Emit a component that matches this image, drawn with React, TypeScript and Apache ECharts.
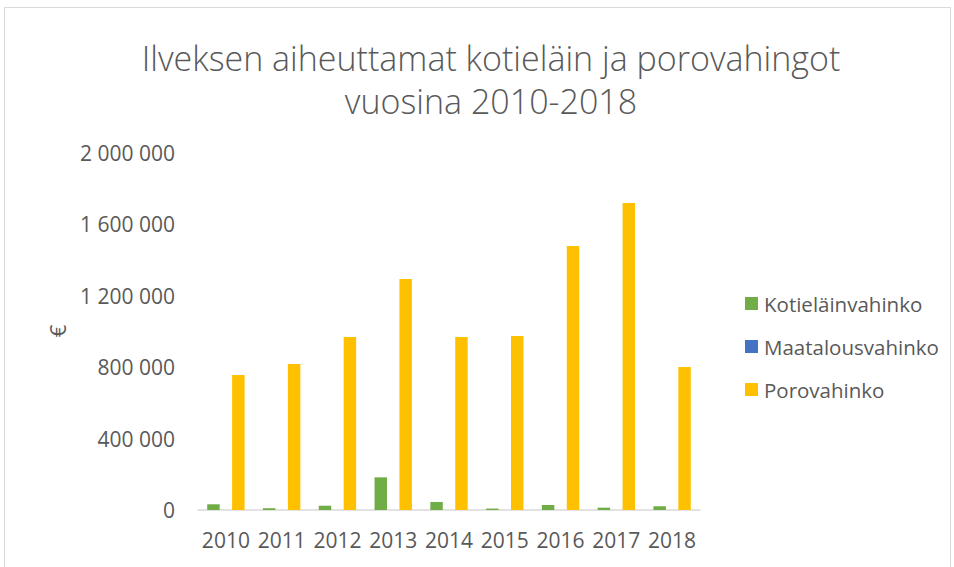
import React, { useEffect, useRef } from "react";
import * as echarts from "echarts";

const years = ["2010", "2011", "2012", "2013", "2014", "2015", "2016", "2017", "2018"];
const kotielain = [32000, 10000, 24000, 183000, 45000, 8000, 28000, 13000, 21000];
const maatalous = [0, 0, 0, 0, 0, 0, 0, 0, 0];
const porovahinko = [756000, 818000, 969000, 1294000, 969000, 975000, 1479000, 1720000, 801000];
const seriesNames = ["Kotieläinvahinko", "Maatalousvahinko", "Porovahinko"];
const colors = ["#70ad47", "#4472c4", "#ffc000"];

const FONT = "'Open Sans', sans-serif";
const TXT = "#595959";

const fmt = (v: number) => String(Math.round(v)).replace(/\B(?=(\d{3})+(?!\d))/g, " ");

export default function App() {
  const ref = useRef<HTMLDivElement>(null);
  useEffect(() => {
    const chart = echarts.init(ref.current!, undefined, { renderer: "svg" });
    const data = [kotielain, maatalous, porovahinko];
    chart.setOption({
      animation: false,
      backgroundColor: "#ffffff",
      color: colors,
      title: {
        text: "Ilveksen aiheuttamat kotieläin ja porovahingot\nvuosina 2010-2018",
        left: 486,
        textAlign: "center",
        top: 31,
        textStyle: {
          fontFamily: FONT,
          fontWeight: 300,
          fontSize: 34,
          color: TXT,
          lineHeight: 43,
        },
      },
      graphic: [
        {
          type: "rect",
          shape: { x: 4.5, y: 7.5, width: 946, height: 580 },
          style: { fill: "none", stroke: "#d9d9d9", lineWidth: 1 },
          silent: true,
        },
        {
          type: "text",
          x: 57,
          y: 331,
          rotation: Math.PI / 2,
          style: {
            text: "€",
            fontFamily: FONT,
            fontSize: 22,
            fill: TXT,
            align: "center",
            verticalAlign: "middle",
          },
        },
      ],
      legend: {
        orient: "vertical",
        left: 740,
        top: 288,
        itemWidth: 13,
        itemHeight: 13,
        itemGap: 22,
        icon: "rect",
        data: seriesNames,
        textStyle: { fontFamily: FONT, fontSize: 20.5, color: TXT, padding: [0, 0, 0, 1] },
      },
      grid: { left: 198, right: 254, top: 153, bottom: 57, containLabel: false },
      xAxis: {
        type: "category",
        data: years,
        axisLine: { lineStyle: { color: "#d9d9d9", width: 1.5 } },
        axisTick: { show: false },
        axisLabel: { fontFamily: FONT, fontSize: 21, color: TXT, margin: 19, interval: 0 },
      },
      yAxis: {
        type: "value",
        min: 0,
        max: 2000000,
        interval: 400000,
        splitLine: { show: false },
        axisLine: { show: false },
        axisTick: { show: false },
        axisLabel: {
          fontFamily: FONT,
          fontSize: 21,
          color: TXT,
          margin: 23,
          formatter: (v: number) => fmt(v),
        },
      },
      series: seriesNames.map((name, i) => ({
        name,
        type: "bar",
        data: data[i],
        barGap: "0%",
        barCategoryGap: "33%",
        itemStyle: { color: colors[i] },
      })),
    });
    return () => chart.dispose();
  }, []);
  return <div ref={ref} style={{ width: 954, height: 567, position: "absolute", left: 0, top: 0 }} />;
}
